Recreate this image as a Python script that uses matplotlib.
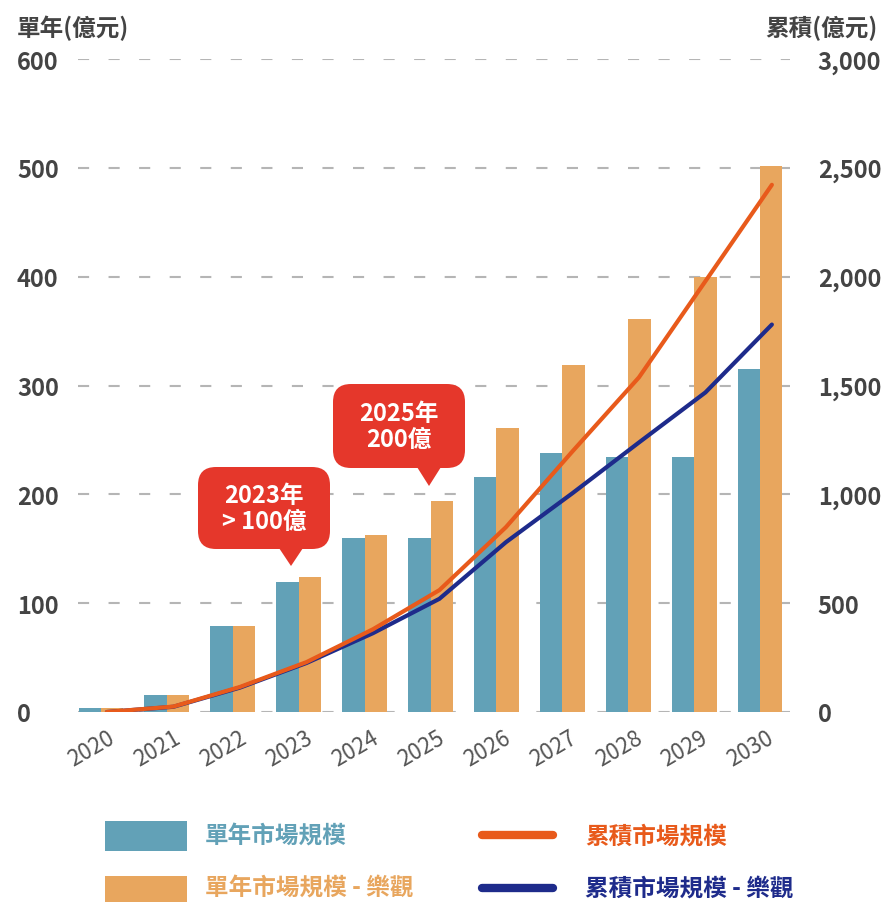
import numpy as np
import matplotlib
matplotlib.use("Agg")
import matplotlib.pyplot as plt
from matplotlib.patches import FancyBboxPatch, Polygon, Rectangle
from matplotlib.lines import Line2D
from matplotlib.transforms import ScaledTranslation

plt.rcParams['font.family'] = ['Noto Sans CJK TC', 'DejaVu Sans']
plt.rcParams['lines.scale_dashes'] = False

# 資料
years = ['2020', '2021', '2022', '2023', '2024', '2025', '2026', '2027', '2028', '2029', '2030']
single_base = [4, 16, 79, 119, 160, 160, 216, 238, 234, 234, 315]
single_opt = [4, 16, 79, 124, 163, 194, 261, 319, 361, 400, 502]
cum_orange = [0, 25, 115, 229, 380, 560, 849, 1197, 1537, 1979, 2422]
cum_navy = [0, 24, 112, 225, 362, 520, 780, 1005, 1238, 1468, 1780]

left_ticks = [0, 100, 200, 300, 400, 500, 600]
right_ticks = [0, 500, 1000, 1500, 2000, 2500, 3000]
right_labels = ['0', '500', '1,000', '1,500', '2,000', '2,500', '3,000']

legend_labels = ['單年市場規模', '單年市場規模 - 樂觀', '累積市場規模', '累積市場規模 - 樂觀']
callouts = [('2023年\n> 100億', (198, 468, 330, 550), (291, 567)),
            ('2025年\n200億', (333, 385, 465, 469), (429, 487))]

# 顏色
C_BLUE = '#62a1b7'
C_SAND = '#e8a65e'
C_ORANGE = '#e85a1b'
C_NAVY = '#1e2b8b'
C_RED = '#e5372b'
C_TEXT = '#444444'

W, H = 887, 903
fig = plt.figure(figsize=(W / 100, H / 100), dpi=100)

ax = fig.add_axes([78 / W, 1 - 713 / H, (790 - 78) / W, (713 - 60) / H])
x = np.arange(len(years))
bw = 0.34
ax.bar(x - bw / 2, single_base, width=bw, color=C_BLUE, zorder=2)
ax.bar(x + bw / 2, single_opt, width=bw, color=C_SAND, zorder=2)
ax.set_xlim(-0.349, 10.455)
ax.set_ylim(0, 600)
ax.set_axisbelow(True)
ax.grid(axis='y', color='#b5b5b5', lw=1.5, linestyle=(0, (8, 14)))
ax.grid(axis='x', visible=False)
for s in ax.spines.values():
    s.set_visible(False)

ax.set_yticks(left_ticks)
ax.set_yticklabels([str(v) for v in left_ticks])
ax.tick_params(axis='y', length=0, pad=44, labelsize=17, labelcolor=C_TEXT)
for lbl in ax.get_yticklabels():
    lbl.set_ha('left')
    lbl.set_fontweight('bold')

ax.set_xticks(x)
ax.set_xticklabels([])
ax.tick_params(axis='x', length=0)
offset = ScaledTranslation(12 / 100, -24 / 100, fig.dpi_scale_trans)
for i, yr in enumerate(years):
    ax.text(i, 0, yr, transform=ax.get_xaxis_transform() + offset,
            rotation=30, ha='right', va='center', rotation_mode='anchor',
            fontsize=16, color='#555555')

ax2 = ax.twinx()
ax2.set_ylim(0, 3000)
for s in ax2.spines.values():
    s.set_visible(False)
ax2.set_yticks(right_ticks)
ax2.set_yticklabels(right_labels)
ax2.tick_params(axis='y', length=0, pad=20, labelsize=17, labelcolor=C_TEXT)
for lbl in ax2.get_yticklabels():
    lbl.set_fontweight('bold')

lx = np.linspace(0.09, 10.18, len(years))
ax2.plot(lx, cum_navy, color=C_NAVY, lw=3, solid_capstyle='round', zorder=3)
ax2.plot(lx, cum_orange, color=C_ORANGE, lw=3, solid_capstyle='round', zorder=4)

# 疊加層（像素座標）
ov = fig.add_axes([0, 0, 1, 1])
ov.set_xlim(0, W)
ov.set_ylim(H, 0)
ov.axis('off')
ov.patch.set_alpha(0)

ov.text(17, 28, '單年(億元)', fontsize=17, fontweight='bold', color=C_TEXT, va='center', ha='left')
ov.text(878, 28, '累積(億元)', fontsize=17, fontweight='bold', color=C_TEXT, va='center', ha='right')

for txt, (x0, y0, x1, y1), (tx, ty) in callouts:
    ov.add_patch(FancyBboxPatch((x0, y0), x1 - x0, y1 - y0,
                                boxstyle='round,pad=0,rounding_size=18', fc=C_RED, ec='none'))
    ov.add_patch(Polygon([(tx - 12, y1 - 1), (tx + 12, y1 - 1), (tx, ty)], closed=True,
                         fc=C_RED, ec='none'))
    ov.text((x0 + x1) / 2, (y0 + y1) / 2, txt, fontsize=17, fontweight='bold', color='white',
            ha='center', va='center', linespacing=1.15)

# 圖例
ov.add_patch(Rectangle((105, 822), 82, 30, fc=C_BLUE, ec='none'))
ov.add_patch(Rectangle((105, 877), 82, 30, fc=C_SAND, ec='none'))
ov.add_line(Line2D([482, 553], [836, 836], lw=6, color=C_ORANGE, solid_capstyle='round'))
ov.add_line(Line2D([482, 553], [889, 889], lw=6, color=C_NAVY, solid_capstyle='round'))
ov.text(205, 837, legend_labels[0], fontsize=17, fontweight='bold', color=C_BLUE, va='center')
ov.text(205, 889, legend_labels[1], fontsize=17, fontweight='bold', color=C_SAND, va='center')
ov.text(585, 837, legend_labels[2], fontsize=17, fontweight='bold', color=C_ORANGE, va='center')
ov.text(585, 889, legend_labels[3], fontsize=17, fontweight='bold', color=C_NAVY, va='center')

fig.savefig('out.png', dpi=100)
